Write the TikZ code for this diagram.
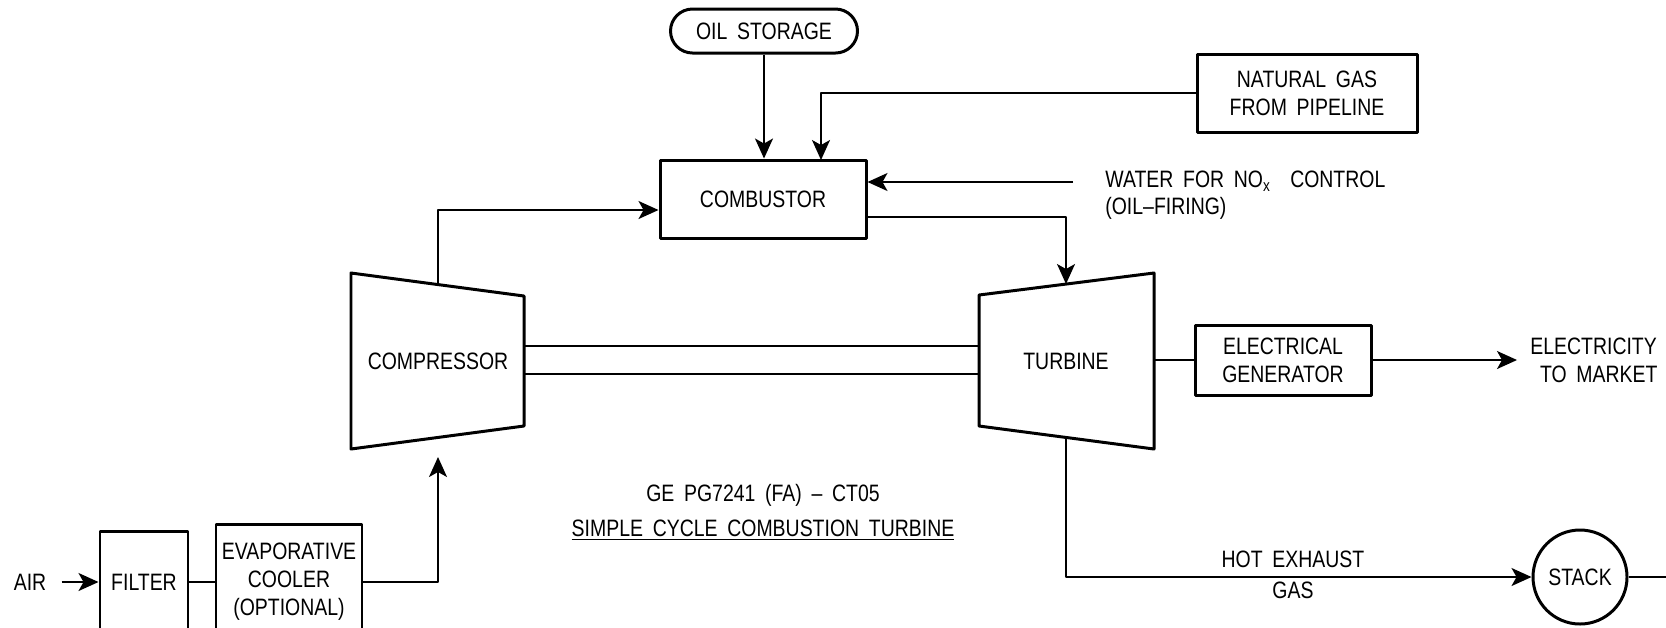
\documentclass[tikz,border=0pt]{standalone}
\usepackage{fontspec}
\setmainfont{Liberation Sans}[FakeStretch=0.82,WordSpace=1.8]
\usetikzlibrary{arrows.meta,shapes.misc}

\begin{document}
\begin{tikzpicture}[x=0.02cm, y=-0.02cm, line join=round,
  unitbox/.style={draw, line width=1.7pt, align=center, inner sep=0pt,
    font=\fontsize{13.5}{16}\selectfont},
  pipe/.style={line width=1pt},
  flow/.style={pipe, -{Stealth[length=0.4cm,width=0.36cm,inset=0.1cm]}},
  lbl/.style={align=center, inner sep=0pt, font=\fontsize{13.5}{16}\selectfont}]
% one pixel of the drawing
\def\pxsz{0.02cm}
\useasboundingbox (0,0) rectangle (1666,627);
\clip (0,0) rectangle (1666,627);

% Fuel side
\node[unitbox, rounded rectangle, minimum width=187*\pxsz, minimum height=44*\pxsz] (oil) at (764,31) {OIL STORAGE};
\node[unitbox, minimum width=206*\pxsz, minimum height=78*\pxsz] (comb) at (763,199) {COMBUSTOR};
\node[unitbox, minimum width=220*\pxsz, minimum height=78*\pxsz] (gas) at (1307,93) {NATURAL GAS\\FROM PIPELINE};
\node[lbl, anchor=west, align=left, font=\fontsize{13.5}{15.3}\selectfont] (water) at (1105,195) {WATER FOR NO\textsubscript{x} \ CONTROL\\(OIL--FIRING)};
\coordinate (waterin) at (1073,182);
\coordinate (gasin) at (821,160);

% Compressor and turbine
\coordinate (ctop) at (438,284.6);
\coordinate (cbot) at (438,457);
\coordinate (ttop) at (1066,284);
\coordinate (tbot) at (1066,437.4);
\coordinate (tright) at (1154,360);
\draw[line width=1.7pt] (351,273) -- (524,296) -- (524,426) -- (351,449) -- cycle;
\draw[line width=1.7pt] (979,295) -- (1154,273) -- (1154,449) -- (979,426) -- cycle;
\node[lbl] (comp) at (438,361) {COMPRESSOR};
\node[lbl] (turb) at (1066,361) {TURBINE};
% Shaft
\begin{scope}[line width=0.9pt]
  \draw (524,346) -- (979,346);
  \draw (524,374) -- (979,374);
\end{scope}

% Power side
\node[unitbox, minimum width=176*\pxsz, minimum height=70*\pxsz] (gen) at (1283,360) {ELECTRICAL\\GENERATOR};
\node[lbl, anchor=west, align=left, inner xsep=13*\pxsz] (market) at (1517,360) {ELECTRICITY\\\ TO MARKET};

% Air side
\node[lbl, inner xsep=15*\pxsz] (air) at (30,582) {AIR};
\node[unitbox, minimum width=88*\pxsz, minimum height=102*\pxsz] (filter) at (144,582) {FILTER};
\node[unitbox, minimum width=146*\pxsz, minimum height=116*\pxsz] (cooler) at (289,582) {EVAPORATIVE\\COOLER\\(OPTIONAL)};

% Exhaust
\node[unitbox, circle, minimum size=94*\pxsz] (stack) at (1580,577) {STACK};
\coordinate (out) at (1666,577);
\node[lbl] (hot) at (1293,559) {HOT EXHAUST};
\node[lbl] (hotgas) at (1293,590) {GAS};

% Title
\node[lbl] (title) at (763,495) {GE PG7241 (FA) -- CT05};
\node[lbl] (subtitle) at (763,530) {\underline{SIMPLE CYCLE COMBUSTION TURBINE}};

% Connectors
\draw[flow] (oil.south) -- (oil.south |- comb.north);
\draw[flow] (gas.west) -| (gasin);
\draw[flow] (waterin) -- (waterin -| comb.east);
\draw[flow] (ctop) |- ([yshift=-11*\pxsz]comb.west);
\draw[flow] ([yshift=-18*\pxsz]comb.east) -| (ttop);
\draw[pipe] (tright) -- (gen.west);
\draw[flow] (gen.east) -- (market.west);
\draw[flow] (air.east) -- (filter.west);
\draw[pipe] (filter.east) -- (cooler.east -| cooler.west);
\draw[flow] (cooler.east) -| (cbot);
\draw[flow] (tbot) |- (stack.west);
\draw[pipe] (stack.east) -- (out);
\end{tikzpicture}
\end{document}
